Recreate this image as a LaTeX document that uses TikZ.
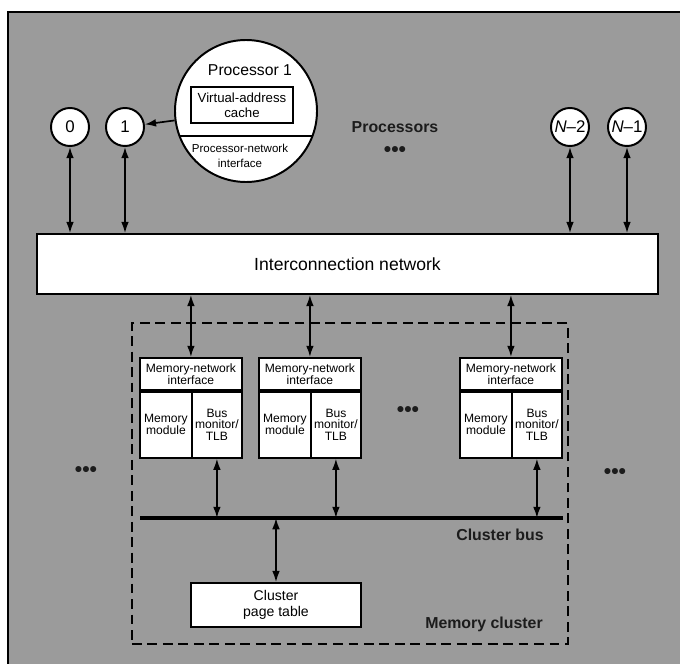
\documentclass[tikz,border=0pt]{standalone}
\usepackage{fontspec}
\setmainfont{Liberation Sans}
\usepackage{xcolor}
\definecolor{ScanGray}{HTML}{9B9B9B}
\definecolor{LabelInk}{HTML}{1C1C1C}
\usepackage{tikz}
\usetikzlibrary{arrows.meta,positioning,calc}

\begin{document}
\begin{tikzpicture}[x=0.25mm,y=-0.25mm,>={Latex[length=8pt,width=5.5pt]}, every node/.style={font=\fontsize{8.6}{8.4}\selectfont}, proc/.style={circle,draw,line width=1.4pt,fill=white,minimum size=9.5mm,inner sep=0pt,font=\fontsize{12}{13}\selectfont}, box/.style={draw,line width=1.3pt,fill=white,align=center,inner sep=1pt}, link/.style={<->,line width=1.2pt}, tag/.style={font=\fontsize{11.3}{13}\selectfont\bfseries,text=LabelInk}, dots/.style={font=\fontsize{15}{15}\selectfont\bfseries,text=LabelInk,inner sep=0pt}]
\useasboundingbox (0,0) rectangle (680,664);
\fill[ScanGray] (8,12) rectangle (680,664);
\draw[line width=1.4pt] (8,664) -- (8,12) -- (680,12);
\node[proc] (p0) at (70,127) {0};
\node[proc] (p1) at (125,127) {1};
\node[proc] (pn2) at (570,127) {{\itshape N}--2};
\node[proc] (pn1) at (627,127) {{\itshape N}--1};
\node[circle,draw,line width=1.4pt,fill=white,minimum size=35.5mm] (cpu) at (246,111) {};
\node[font=\fontsize{11.2}{13}\selectfont] (cpuname) at (250,70) {Processor 1};
\node[box,minimum width=25.5mm,minimum height=9mm,font=\fontsize{9.4}{10.7}\selectfont] (vac) at (242,105) {Virtual-address\\cache};
\draw[line width=1.3pt] ($(cpu.center)+(-66.5,25)$) -- ($(cpu.center)+(66.5,25)$);
\node[align=center,font=\fontsize{8.2}{10.6}\selectfont] (pni) at (240,156) {Processor-network\\interface};
\draw[->,line width=1.2pt] (cpu) -- (p1);
\node[tag] (proclabel) at (395,127) {Processors};
\node[dots] (pdots) at (395,152) {•••};
\node[box,minimum width=155.25mm,minimum height=15mm,font=\fontsize{12.5}{14}\selectfont] (net) at (347.5,264) {Interconnection network};
\foreach \p in {p0,p1,pn2,pn1} \draw[link] (\p) -- (\p |- net.north);
\node[draw,line width=1.4pt,dash pattern=on 7pt off 4pt,minimum width=109mm,minimum height=80.25mm] (cluster) at (350,483.5) {};
\coordinate (busL) at (140,518);
\coordinate (busR) at (563,518);
\draw[line width=3.4pt] (busL) -- (busR);
\foreach \i/\x in {1/139,2/258,3/459}{
\node[box,anchor=north west,minimum width=25.5mm,minimum height=8mm] (mni\i) at (\x,357) {Memory-network\\interface};
\node[box,anchor=north west,minimum width=13mm,minimum height=16.5mm] (mm\i) at (mni\i.south west) {Memory\\module};
\node[box,anchor=north east,minimum width=12.5mm,minimum height=16.5mm] (bm\i) at (mni\i.south east) {Bus\\monitor/\\TLB};
\draw[link] (mni\i) -- (mni\i |- net.south);
\draw[link] (bm\i) -- (bm\i |- busL);
}
\node[dots] (mdots) at (408,412) {•••};
\node[dots] (ldots) at (86,472) {•••};
\node[dots] (rdots) at (615,474) {•••};
\node[box,minimum width=42.5mm,minimum height=11mm,font=\fontsize{10}{11.4}\selectfont] (pt) at (276,605) {Cluster\\page table};
\draw[link] (pt) -- (pt |- busL);
\node[tag] (buslabel) at (500,535) {Cluster bus};
\node[tag] (clusterlabel) at (484,624) {Memory cluster};
\end{tikzpicture}
\end{document}
